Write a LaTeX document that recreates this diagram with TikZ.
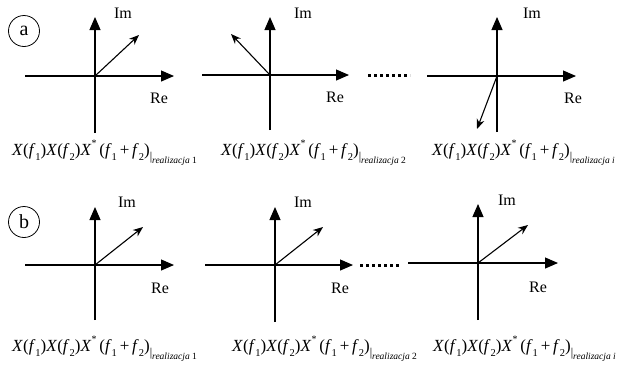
\documentclass[tikz,border=0pt]{standalone}
\usepackage{fontspec}
\setmainfont{Liberation Serif}
\usetikzlibrary{arrows.meta}
\tikzset{
  axis/.style={line width=1.1pt,-{Triangle[length=13pt,width=11pt]}},
  vec/.style={line width=1.1pt,-{Stealth[length=10pt,width=8pt]}},
  lbl/.style={font=\fontsize{16}{18}\selectfont,inner sep=0pt},
  frm/.style={font=\fontsize{17}{19}\selectfont,inner sep=0pt,anchor=west},
  tag/.style={draw,circle,line width=0.8pt,minimum size=31pt,inner sep=0pt,font=\fontsize{20}{22}\selectfont},
  dots/.style={line width=3pt,dash pattern=on 3pt off 3pt}
}
\newcommand{\lw}[1]{\raisebox{-0.3em}{\fontsize{10.5}{12}\selectfont #1}}
\newcommand{\lr}[1]{\raisebox{-0.5em}{\fontsize{9.5}{10}\selectfont #1}}
\newcommand{\frml}[1]{\textit{X}(\textit{f}\lw{1})\textit{X}(\textit{f}\lw{2})\textit{X}\raisebox{0.5em}{\fontsize{10}{10}\selectfont *}\,(\textit{f}\lw{1}\,+\,\textit{f}\lw{2})\raisebox{-0.3em}{\fontsize{12}{12}\selectfont|}\lr{\textit{realizacja} #1}}
\begin{document}
\begin{tikzpicture}[x=1pt,y=-1pt]
\useasboundingbox (0,0) rectangle (631,368);
% tags
\node[tag] (ta) at (24,31) {a};
\node[tag] (tb) at (24,222) {b};
% panel a1
\coordinate (oa1) at (95,76);
\coordinate (la1) at (25,76); \coordinate (ra1) at (174,76);
\coordinate (ua1) at (95,17); \coordinate (da1) at (95,133);
\coordinate (va1) at (139,35);
\draw[line width=1.1pt] (la1) -- (oa1);
\draw[axis] (oa1) -- (ra1);
\draw[line width=1.1pt] (da1) -- (oa1);
\draw[axis] (oa1) -- (ua1);
\draw[vec] (oa1) -- (va1);
\node[lbl] (ima1) at (123,13) {Im};
\node[lbl] (rea1) at (159,98) {Re};
\node[frm] (fa1) at (12,153) {\frml{1}};
% panel a2
\coordinate (oa2) at (270,75);
\coordinate (la2) at (202,75); \coordinate (ra2) at (349,75);
\coordinate (ua2) at (270,17); \coordinate (da2) at (270,130);
\coordinate (va2) at (231,34);
\draw[line width=1.1pt] (la2) -- (oa2);
\draw[axis] (oa2) -- (ra2);
\draw[line width=1.1pt] (da2) -- (oa2);
\draw[axis] (oa2) -- (ua2);
\draw[vec] (oa2) -- (va2);
\node[lbl] (ima2) at (303,13) {Im};
\node[lbl] (rea2) at (335,97) {Re};
\coordinate (d1s) at (368,75); \coordinate (d2e) at (410,75);
\draw[dots] (d1s) -- (d2e);
\node[frm] (fa2) at (221,153) {\frml{2}};
% panel a3
\coordinate (oa3) at (497,76);
\coordinate (la3) at (427,76); \coordinate (ra3) at (576,76);
\coordinate (ua3) at (497,17); \coordinate (da3) at (497,132);
\coordinate (va3) at (477,129);
\draw[line width=1.1pt] (la3) -- (oa3);
\draw[axis] (oa3) -- (ra3);
\draw[line width=1.1pt] (da3) -- (oa3);
\draw[axis] (oa3) -- (ua3);
\draw[vec] (oa3) -- (va3);
\node[lbl] (ima3) at (532,13) {Im};
\node[lbl] (rea3) at (573,98) {Re};
\node[frm] (fa3) at (432,153) {\frml{\textit{i}}};
% panel b1
\coordinate (ob1) at (95,265);
\coordinate (lb1) at (25,265); \coordinate (rb1) at (174,265);
\coordinate (ub1) at (95,207); \coordinate (db1) at (95,320);
\coordinate (vb1) at (143,227);
\draw[line width=1.1pt] (lb1) -- (ob1);
\draw[axis] (ob1) -- (rb1);
\draw[line width=1.1pt] (db1) -- (ob1);
\draw[axis] (ob1) -- (ub1);
\draw[vec] (ob1) -- (vb1);
\node[lbl] (imb1) at (127,202) {Im};
\node[lbl] (reb1) at (160,288) {Re};
\node[frm] (fb1) at (12,349) {\frml{1}};
% panel b2
\coordinate (ob2) at (275,265);
\coordinate (lb2) at (205,265); \coordinate (rb2) at (353,265);
\coordinate (ub2) at (275,207); \coordinate (db2) at (275,322);
\coordinate (vb2) at (323,227);
\draw[line width=1.1pt] (lb2) -- (ob2);
\draw[axis] (ob2) -- (rb2);
\draw[line width=1.1pt] (db2) -- (ob2);
\draw[axis] (ob2) -- (ub2);
\draw[vec] (ob2) -- (vb2);
\node[lbl] (imb2) at (303,202) {Im};
\node[lbl] (reb2) at (340,288) {Re};
\coordinate (d3s) at (360,265); \coordinate (d4e) at (400,265);
\draw[dots] (d3s) -- (d4e);
\node[frm] (fb2) at (232,349) {\frml{2}};
% panel b3
\coordinate (ob3) at (478,263);
\coordinate (lb3) at (408,263); \coordinate (rb3) at (558,263);
\coordinate (ub3) at (478,204); \coordinate (db3) at (478,320);
\coordinate (vb3) at (528,225);
\draw[line width=1.1pt] (lb3) -- (ob3);
\draw[axis] (ob3) -- (rb3);
\draw[line width=1.1pt] (db3) -- (ob3);
\draw[axis] (ob3) -- (ub3);
\draw[vec] (ob3) -- (vb3);
\node[lbl] (imb3) at (507,200) {Im};
\node[lbl] (reb3) at (538,287) {Re};
\node[frm] (fb3) at (433,349) {\frml{\textit{i}}};
\end{tikzpicture}
\end{document}
